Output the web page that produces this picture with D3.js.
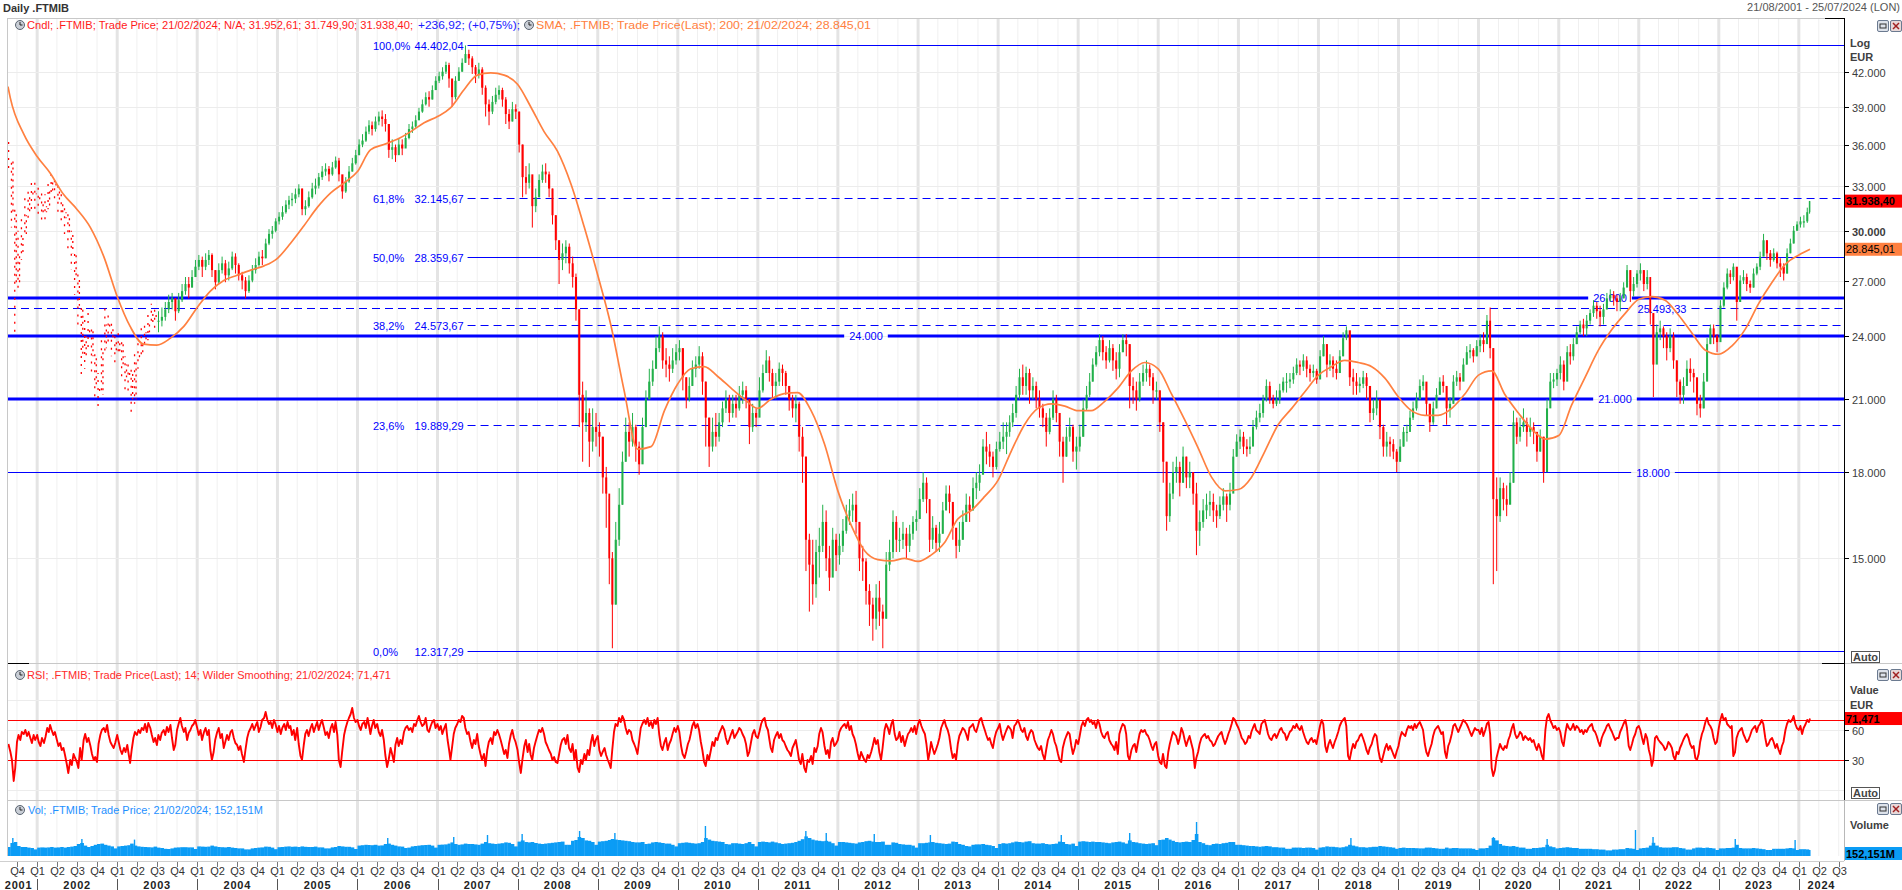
<!DOCTYPE html>
<html><head><meta charset="utf-8"><title>Daily .FTMIB</title>
<script src="https://cdn.jsdelivr.net/npm/d3@7"></script>
<style>
html,body{margin:0;padding:0;background:#fff;overflow:hidden}
svg{display:block}
text{font-family:'Liberation Sans',Arial,Helvetica,sans-serif;font-size:11px}
</style></head><body>
<svg id="chart" width="1902" height="890"></svg>
<script>
// ================= DATA =================
const rangeStart = "2001-08-21", rangeEnd = "2024-07-25", lastDate = "2024-02-21";
const dottedUntil = "2003-07-01";
const priceTicks = [15, 18, 21, 24, 27, 30, 33, 36, 39, 42];   // thousands EUR
const rsiTicks = [30, 60];
const rsiBands = [30, 70];
const fibPct = ["100,0%", "61,8%", "50,0%", "38,2%", "23,6%", "0,0%"];
const fibVal = [44402.04, 32145.67, 28359.67, 24573.67, 19889.29, 12317.29];
const fibHighDate = "2007-05-18";
const levelVal = [26000, 25493.33, 24000, 21000, 18000];
const lastClose = 31938.40, lastSma = 28845.01, lastRsi = 71.471, lastVol = 152.151;

// semi-monthly candles (thousands): close / high / low
const closeP = [
 34.8,31.2,26.8,28.6,29.8,31.0,32.2,32.6,32.4,
 32.0,31.2,31.6,32.6,33.3,32.8,32.0,31.2,30.8,29.8,28.6,27.2, 25.6,23.0,24.0,24.3,23.0,21.6,21.2,23.4,24.6,24.4,23.8,23.2,
 23.8,22.6,22.0,22.2,21.0,22.8,23.2,23.8,24.2,24.6,25.2,24.8, 24.8,25.0,25.4,25.8,26.0,25.3,25.9,26.4,26.8,26.6,27.2,27.8,
 28.2,27.8,28.2,28.5,27.6,26.9,27.6,28.0,27.3,27.7,28.4,27.9, 27.3,27.0,26.4,27.0,27.6,27.9,28.4,28.3,29.2,29.8,30.0,30.6,
 30.9,31.2,31.7,32.0,32.1,32.4,32.8,31.4,31.6,32.2,32.8,33.0, 33.6,34.0,34.2,33.8,34.3,34.8,33.8,32.6,33.3,34.0,34.6,35.2,
 36.0,36.3,37.0,37.5,37.2,37.8,38.2,38.0,37.6,35.6,35.8,35.2, 36.0,35.7,36.5,37.2,37.4,37.9,38.6,39.2,39.8,39.6,40.4,41.2,
 41.6,42.0,42.6,41.4,39.8,41.2,42.0,42.8,43.6,43.2,42.4,41.8, 42.2,40.6,39.2,38.6,39.4,40.0,40.4,39.6,38.4,37.8,38.8,38.6,
 36.0,33.6,33.2,33.8,31.6,32.2,33.4,34.0,33.8,32.8,31.0,29.4, 28.2,28.6,29.0,28.0,27.2,25.4,21.2,20.0,20.4,19.2,19.8,19.6,
 19.4,17.8,17.2,15.0,13.6,15.6,16.8,18.4,19.6,19.2,19.8,19.0, 18.3,19.8,21.0,21.8,22.4,23.4,24.0,22.8,22.6,22.4,22.8,23.2,
 23.4,22.0,21.0,21.6,22.4,22.6,23.0,21.8,20.2,19.0,19.6,19.4, 20.0,20.6,21.0,20.4,20.8,20.6,21.2,21.4,21.0,19.8,20.4,20.2,
 21.4,22.2,22.8,22.2,21.6,21.8,22.4,22.2,21.6,21.0,20.6,20.8, 19.4,18.6,15.6,14.8,14.2,15.2,15.4,16.2,15.0,14.4,15.6,15.1,
 15.4,15.9,16.4,16.6,16.8,16.2,15.0,14.9,14.0,13.6,13.2,13.8, 13.4,13.2,14.8,15.2,16.2,15.6,15.6,15.8,15.4,15.8,16.2,16.3,
 17.0,17.6,17.0,15.6,16.0,15.5,15.8,16.6,17.2,16.9,16.0,15.4, 15.6,16.2,16.8,16.6,17.4,17.6,17.9,19.0,18.8,18.6,18.2,18.9,
 19.2,19.4,19.6,20.0,20.4,21.2,22.0,21.6,22.2,21.4,21.6,21.0, 20.6,20.2,19.6,20.2,21.0,20.4,19.2,18.6,19.4,19.8,18.8,19.0,
 19.4,20.6,21.2,21.8,22.6,23.2,23.8,23.2,22.8,23.4,22.8,22.4, 23.2,23.8,23.6,21.6,21.4,21.0,21.8,22.2,22.4,22.0,21.4,21.4,
 20.0,18.4,16.4,17.2,18.0,18.2,17.6,18.6,17.8,18.0,17.2,15.9, 16.2,16.6,16.8,16.9,16.6,16.4,16.8,17.1,16.8,17.2,18.6,19.2,
 19.4,19.0,18.9,19.0,19.8,20.2,20.4,21.0,21.6,21.0,20.8,21.0, 21.4,21.8,21.8,21.9,22.2,22.6,22.5,22.8,22.4,22.2,22.3,21.9,
 23.0,23.6,22.6,22.8,22.4,22.2,23.0,23.9,24.3,22.0,21.8,21.6, 21.7,22.0,21.6,20.4,20.6,21.0,19.8,19.0,19.2,19.1,18.8,18.4,
 19.0,19.6,19.6,20.2,20.6,21.0,21.6,21.8,20.8,20.0,20.6,21.2, 21.8,21.6,20.6,20.8,21.8,22.0,21.8,22.6,23.2,23.3,23.0,23.5,
 23.8,23.6,24.8,23.4,17.0,16.4,17.4,17.0,16.8,17.6,20.0,19.4, 19.8,20.0,19.6,19.8,19.6,18.8,19.4,18.0,20.6,21.8,21.9,22.2,
 22.6,21.8,23.2,23.0,23.6,24.2,24.6,24.4,24.8,25.2,25.6,25.3, 25.0,25.4,26.0,26.2,26.0,25.8,26.0,26.6,27.6,26.4,26.8,27.4,
 27.6,26.8,27.2,25.2,22.6,24.2,24.4,24.0,23.4,24.0,22.8,21.8, 21.2,21.6,22.4,22.2,22.0,20.8,20.6,21.8,23.6,24.4,24.0,23.7,
 25.6,26.6,27.4,27.2,27.8,25.8,27.0,27.2,26.8,26.6,27.4,27.8, 28.4,29.4,28.6,28.2,28.6,28.0,27.8,27.4,28.6,29.2,30.0,30.4,
 30.6,30.6,31.2,31.94
];
const highP = [
 36.2,35.0,31.5,30.0,31.0,32.2,33.0,33.4,33.2,
 33.2,32.6,32.4,33.4,33.9,33.8,33.2,32.4,31.8,31.2,30.0,28.8, 27.4,25.8,25.0,25.2,24.6,23.2,22.2,24.0,25.5,25.4,24.8,24.0,
 24.4,23.8,23.0,22.8,22.4,23.4,23.8,24.4,24.8,25.2,25.7,25.6, 25.3,25.5,25.8,26.2,26.3,26.0,26.3,26.8,27.2,27.2,27.6,28.2,
 28.5,28.4,28.6,28.8,28.6,27.6,28.0,28.4,28.2,28.1,28.7,28.6, 28.0,27.5,27.2,27.3,27.9,28.3,28.7,28.8,29.5,30.1,30.3,30.8,
 31.2,31.6,32.0,32.3,32.5,32.8,33.1,32.8,32.0,32.6,33.2,33.5, 33.9,34.4,34.6,34.4,34.7,35.1,35.0,33.6,33.6,34.4,35.0,35.6,
 36.4,36.8,37.4,37.9,37.8,38.2,38.6,38.7,38.4,37.6,36.4,36.0, 36.5,36.4,36.9,37.6,37.8,38.3,38.9,39.6,40.2,40.3,40.8,41.6,
 42.0,42.4,42.9,42.8,41.2,41.6,42.4,43.2,44.4,44.0,43.4,42.6, 42.8,42.4,40.8,39.6,39.9,40.6,40.8,40.6,39.8,38.8,39.4,39.2,
 38.6,36.0,34.4,34.6,33.6,32.8,33.8,34.5,34.6,34.0,32.8,31.0, 29.4,29.2,29.4,29.2,28.4,27.4,25.4,21.8,21.4,20.6,20.6,20.4,
 20.0,19.4,18.2,17.0,15.2,16.2,17.4,18.8,20.2,20.0,20.4,19.9, 19.2,20.2,21.4,22.4,22.8,24.0,24.5,24.2,23.4,23.0,23.4,23.6,
 23.8,23.4,22.0,22.0,22.8,23.0,23.5,23.2,21.8,20.2,20.2,20.4, 20.4,20.9,21.4,21.2,21.2,21.2,21.6,21.8,21.6,21.0,20.8,20.6,
 22.0,22.6,23.3,23.0,22.4,22.2,22.7,22.6,22.3,21.6,21.2,21.2, 20.9,19.8,18.6,15.8,15.6,15.6,16.0,16.8,16.6,15.4,16.0,15.8,
 15.8,16.3,16.8,17.0,17.2,17.3,16.2,15.4,15.0,14.2,13.8,14.2, 14.3,13.6,15.2,15.6,16.6,16.4,16.0,16.2,16.0,16.1,16.4,16.6,
 17.4,18.0,17.8,17.0,16.4,16.1,16.2,16.9,17.5,17.5,16.8,16.0, 16.2,16.6,17.2,17.1,17.8,18.0,18.3,19.3,19.6,19.1,18.8,19.2,
 19.6,20.0,20.0,20.3,20.8,21.6,22.4,22.6,22.5,22.4,22.0,21.8, 21.4,20.8,20.4,20.6,21.4,21.2,20.4,19.4,19.8,20.2,19.9,19.4,
 19.9,21.0,21.6,22.2,22.9,23.5,24.1,24.0,23.5,23.8,23.6,23.2, 23.6,24.1,24.1,23.6,22.0,21.8,22.2,22.6,22.8,22.6,22.2,21.8,
 21.4,20.0,18.4,17.6,18.4,18.6,18.4,19.0,18.6,18.4,18.0,17.6, 16.6,17.0,17.2,17.3,17.2,16.8,17.1,17.4,17.2,17.6,18.9,19.5,
 19.7,19.6,19.3,19.4,20.1,20.5,20.8,21.2,21.9,21.8,21.2,21.4, 21.7,22.0,22.2,22.2,22.5,22.9,22.8,23.1,23.0,22.6,22.6,22.4,
 23.3,24.0,23.6,23.1,23.0,22.8,23.3,24.2,24.5,24.0,22.4,22.2, 22.0,22.3,22.2,21.4,21.0,21.4,20.9,19.9,19.6,19.4,19.3,18.9,
 19.3,19.8,19.9,20.5,20.9,21.3,21.9,22.1,21.7,20.8,20.9,21.5, 22.0,22.1,21.6,21.1,22.1,22.3,22.2,22.9,23.5,23.6,23.4,23.8,
 24.1,24.2,25.1,25.5,23.4,17.8,17.8,17.6,17.5,18.0,20.5,20.2, 20.2,20.6,20.2,20.2,20.0,19.6,19.7,19.4,21.0,22.2,22.2,22.4,
 23.0,22.8,23.5,23.6,23.9,24.5,24.8,24.9,25.1,25.4,25.9,25.8, 25.6,25.7,26.3,26.5,26.4,26.2,26.3,26.9,27.9,27.6,27.2,27.6,
 28.0,27.6,27.6,27.0,25.2,24.6,24.8,24.5,24.2,24.4,24.2,22.8, 21.9,22.0,22.8,22.9,22.4,21.8,21.2,22.2,23.9,24.6,24.6,24.1,
 25.9,26.9,27.7,27.6,28.0,27.6,27.3,27.6,27.4,27.0,27.7,28.0, 28.7,29.8,29.4,28.8,28.9,28.7,28.3,28.0,28.9,29.5,30.3,30.6,
 30.9,31.0,31.5,31.95
];
const lowP = [
 34.0,30.2,24.0,26.4,28.2,29.6,30.8,31.4,31.4,
 31.0,30.5,30.6,31.4,32.2,32.0,31.2,30.4,29.8,28.8,27.6,26.2, 24.6,22.0,22.4,23.2,22.2,21.0,20.6,21.2,23.2,23.6,23.0,22.6,
 23.0,22.0,21.4,21.2,20.4,20.8,22.4,23.0,23.6,23.8,24.6,24.2, 24.2,24.5,24.8,25.2,25.4,24.8,25.2,25.8,26.2,26.0,26.6,27.2,
 27.6,27.2,27.6,27.9,27.2,26.5,26.8,27.4,26.9,27.0,27.6,27.4, 27.0,26.5,26.0,26.3,26.9,27.4,27.8,27.9,28.3,29.1,29.5,29.9,
 30.4,30.7,31.1,31.4,31.6,31.8,32.2,31.0,31.0,31.5,32.1,32.4, 32.8,33.4,33.7,33.3,33.7,34.2,33.3,32.1,32.5,33.2,34.0,34.5,
 35.2,35.8,36.2,36.8,36.7,37.0,37.5,37.4,37.0,35.0,34.9,34.7, 35.3,35.2,35.8,36.4,36.9,37.3,37.9,38.5,39.1,39.0,39.6,40.4,
 41.0,41.3,41.8,40.6,39.0,39.6,41.2,42.0,42.8,42.6,41.8,41.0, 41.4,40.0,38.2,37.5,38.4,39.2,39.6,39.0,37.6,37.2,37.8,38.0,
 35.4,32.2,32.4,32.8,30.2,31.2,32.2,33.2,33.2,32.2,30.4,28.8, 26.8,27.6,28.0,27.4,26.6,24.8,19.8,18.4,19.6,18.2,18.8,19.0,
 18.6,17.2,16.0,14.2,12.4,13.6,15.4,16.8,18.4,18.6,19.0,18.4, 17.9,18.4,19.8,21.0,21.6,22.4,23.2,22.4,22.0,21.8,22.2,22.6,
 22.8,21.4,20.6,20.9,21.6,22.0,22.4,21.2,19.0,18.2,18.8,19.0, 19.2,19.8,20.4,20.0,20.2,20.2,20.5,20.8,20.6,19.1,19.6,19.8,
 20.6,21.3,22.2,21.8,21.0,21.0,21.6,21.6,21.2,20.5,20.2,20.0, 18.8,17.6,14.6,13.4,13.6,13.8,14.4,15.2,14.6,14.0,14.6,14.6,
 14.8,15.2,15.8,16.1,16.2,15.8,14.6,14.3,13.6,13.0,12.6,12.9, 13.0,12.4,13.2,14.6,15.0,15.2,15.2,15.3,15.0,15.2,15.6,15.9,
 16.3,16.9,16.5,15.2,15.3,15.2,15.2,15.8,16.6,16.5,15.6,15.0, 15.2,15.6,16.2,16.2,16.6,17.0,17.3,18.0,18.3,18.2,17.8,18.1,
 18.8,18.9,18.7,19.4,19.8,20.2,21.0,21.2,21.2,20.8,21.0,20.6, 20.2,19.8,19.0,19.5,20.1,20.0,18.6,17.6,18.6,19.2,18.4,18.1,
 18.8,19.4,20.5,21.1,21.8,22.5,23.0,22.8,22.4,22.7,22.3,21.9, 22.0,23.2,23.0,20.6,20.8,20.5,20.9,21.6,21.8,21.6,20.8,21.0,
 19.6,17.6,15.9,16.2,17.0,17.6,17.1,17.6,17.4,17.4,16.8,15.1, 15.4,16.0,16.3,16.4,16.2,16.0,16.3,16.6,16.2,16.6,17.4,18.6,
 18.9,18.7,18.6,18.7,19.1,19.7,20.0,20.2,20.9,20.8,20.6,20.7, 20.8,21.3,21.3,21.5,21.7,22.1,22.1,22.3,22.0,21.8,22.0,21.7,
 22.2,23.0,22.0,22.3,22.0,21.9,22.2,23.0,23.8,21.6,21.2,21.2, 21.3,21.5,21.0,20.0,20.1,20.3,19.3,18.6,18.6,18.6,18.5,18.0,
 18.4,19.0,19.2,19.6,20.1,20.5,21.0,21.4,20.3,19.6,19.9,20.6, 21.2,21.3,19.9,20.2,20.8,21.6,21.4,21.9,22.6,22.9,22.7,23.0,
 23.2,23.2,23.7,22.9,14.2,14.6,16.2,16.6,16.4,16.9,17.6,19.1, 19.2,19.6,19.0,19.4,19.1,18.4,18.8,17.6,18.2,20.8,21.5,21.6,
 21.9,21.4,22.0,22.6,22.8,23.6,24.1,24.0,24.0,24.6,25.0,24.9, 24.5,24.6,25.4,25.8,25.6,25.3,25.3,26.0,26.7,25.8,26.1,26.6,
 27.0,26.4,26.5,24.6,21.1,22.8,23.8,23.4,22.8,23.2,22.4,21.1, 20.8,20.8,21.6,21.8,21.3,20.3,20.2,20.6,21.9,23.6,23.6,23.2,
 24.0,25.5,26.5,26.8,27.0,24.8,25.8,26.8,26.4,26.3,26.6,27.3, 27.6,28.5,28.2,27.8,28.1,27.7,27.2,27.0,27.4,28.6,29.2,30.0,
 30.2,30.2,30.5,31.1
];
// SMA(200) read every two months (thousands)
const sma = [
 40.7, 39.7,36.8,
 35.1,33.9,32.4,31.4,30.2,28.4,  26.1,24.5,23.6,23.55,23.9,24.5,  25.5,26.4,27.0,27.3,27.6,27.85,
 28.3,29.2,30.3,31.5,32.5,33.2,  34.0,35.6,36.0,36.4,37.0,37.7,  38.2,38.9,40.4,41.7,41.9,41.7,
 40.9,39.0,37.0,35.5,33.1,30.2,  27.3,24.6,21.4,18.9,19.0,20.5,  21.7,22.4,22.5,22.05,21.5,21.0,
 20.6,21.0,21.25,21.3,20.5,19.1, 17.3,16.1,15.25,14.96,14.92,15.0, 14.9,15.1,15.5,16.3,16.6,17.1,
 17.7,18.8,19.9,20.6,20.8,20.7,  20.5,20.5,20.9,21.5,22.3,22.7,  22.4,21.25,20.1,18.95,17.8,17.3,
 17.35,17.8,18.8,19.9,20.6,21.35, 22.1,22.5,22.8,22.7,22.5,21.95, 21.1,20.5,20.3,20.3,20.6,21.25,
 22.1,22.3,21.2,20.4,19.7,19.3,  19.45,20.75,22.0,23.3,24.35,25.2, 25.95,26.1,25.9,25.1,24.15,23.3,
 23.1,23.5,24.35,25.7,26.9,27.95, 28.5, 28.85
];
// RSI(14), four readings a month (1st, 8th, 16th, 23rd)
const rsi = [
 46, 38,30,9,22, 48,55,50,58, 56,60,54,58, 52,47,55,50,
 55,48,44,52, 47,53,62,58, 65,60,55,58, 50,44,47,40, 42,35,26,17, 30,25,36,32, 28,22,42,30, 50,56,48,52, 44,36,30,33, 28,46,55,60, 62,58,65,55, 48,45,42,47,
 55,48,40,36, 42,38,45,35, 27,40,52,58, 55,60,57,62, 60,66,58,67, 62,55,48,52, 45,55,50,57, 60,55,63,58, 65,52,40,45, 60,66,72,64, 58,62,50,57, 60,64,66,70,
 62,55,60,50, 58,62,55,60, 40,30,38,50, 58,62,52,56, 42,48,55,50, 58,60,52,47, 45,40,44,36, 28,40,52,58, 62,66,60,64, 68,58,63,70, 72,78,70,66, 68,62,70,66,
 58,64,56,62, 66,60,68,62, 64,55,60,50, 62,46,34,30, 45,56,60,54, 62,66,58,63, 68,60,66,70, 62,55,58,52, 62,66,58,68, 55,30,23,38, 55,62,68,72, 76,82,72,68,
 70,64,60,66, 68,62,72,64, 56,64,70,62, 66,58,54,60, 50,35,23,30, 42,36,28,45, 52,44,50,46, 58,62,64,60, 62,58,66,64, 70,74,68,64, 66,72,60,58, 64,68,70,62,
 66,60,64,56, 62,66,50,40, 30,42,56,62, 66,70,68,74, 72,62,56,58, 48,42,50,46, 56,44,36,30, 36,24,40,48, 52,46,58,55, 60,56,50,44, 36,40,32,46, 55,60,52,48,
 40,28,17,30, 44,50,38,46, 35,30,42,48, 55,60,58,62, 56,48,44,40, 36,30,33,28, 27,35,45,50, 52,46,55,42, 38,46,30,40, 22,18,30,26, 36,30,40,35, 48,55,44,50,
 54,40,34,38, 42,35,30,26, 22,40,58,66, 64,72,68,74, 70,62,56,60, 58,50,46,42, 36,48,62,66, 70,66,72,64, 68,62,70,66, 72,56,44,40, 48,52,40,46, 50,56,62,58,
 64,58,44,36, 32,38,46,50, 56,64,68,62, 66,60,48,40, 28,24,35,30, 40,48,44,52, 50,56,60,64, 60,52,46,50, 56,60,52,55, 58,62,60,56, 52,46,34,38, 48,56,60,54,
 52,58,66,70, 72,64,60,50, 42,38,50,54, 58,52,56,50, 48,44,40,38, 34,42,46,50, 40,30,26,36, 22,18,30,28, 34,26,42,38, 44,56,62,58, 44,36,40,32, 48,52,44,46,
 50,58,62,64, 66,62,68,60, 64,56,52,46, 36,30,38,34, 30,28,35,32, 38,44,52,46, 50,38,30,42, 60,66,62,56, 66,70,56,50, 52,58,48,54, 44,50,56,58, 62,58,64,56,
 66,70,64,60, 56,46,30,38, 48,42,36,40, 46,52,62,66, 70,64,60,54, 40,32,36,30, 46,54,58,62, 60,56,50,62, 64,66,60,58, 64,70,72,66, 60,55,50,52, 46,42,52,58,
 62,66,56,50, 56,60,64,62, 60,52,64,66, 70,66,60,58, 62,54,50,56, 60,58,50,46, 42,40,44,36, 30,40,50,54, 60,56,48,44, 36,30,28,42, 50,54,58,56, 44,36,42,50,
 46,54,64,68, 64,70,72,68, 70,66,68,62, 70,66,58,54, 52,56,58,50, 46,44,40,48, 36,56,62,66, 64,56,34,30, 40,44,46,38, 48,56,60,58, 60,56,54,50, 44,40,46,48,
 34,28,26,36, 24,22,38,46, 52,58,56,54, 46,52,62,58, 50,44,50,54, 46,40,22,32, 38,46,52,54, 56,52,54,50, 48,44,46,50, 54,56,58,52, 46,50,56,60, 66,72,70,66,
 62,58,52,50, 46,48,54,52, 58,62,66,60, 58,56,66,68, 70,64,56,52, 50,54,56,52, 56,60,62,58, 56,50,54,58, 60,64,62,66, 62,60,64,58, 52,48,46,50, 52,48,50,46,
 56,64,70,66, 44,38,46,50, 46,42,48,52, 58,64,68,70, 72,64,34,30, 40,46,42,48, 50,54,56,52, 46,40,36,42, 46,52,56,54, 40,32,28,34, 42,46,40,44, 40,36,32,38,
 44,52,58,56, 54,60,64,62, 64,60,66,62, 66,68,64,60, 46,38,34,40, 46,54,60,62, 64,60,56,58, 38,32,44,48, 56,64,66,62, 58,62,66,70, 68,66,62,58, 54,58,62,60,
 60,56,62,54, 60,66,68,56, 22,14,20,32, 40,46,42,40, 44,42,50,54, 62,66,56,52, 54,58,56,50, 54,52,50,52, 48,50,44,40, 46,42,34,30, 60,72,76,70, 66,62,64,60,
 62,58,48,44, 58,66,62,60, 62,66,60,64, 62,58,60,56, 60,58,62,64, 66,60,58,54, 48,44,52,56, 60,64,66,62, 58,54,50,52, 52,58,62,66, 70,62,44,40, 46,52,56,62,
 64,60,52,46, 56,52,40,34, 24,30,52,54, 50,48,46,44, 40,42,48,46, 42,34,30,38, 36,42,46,50, 54,56,52,46, 42,44,32,30, 36,48,56,60, 68,72,66,64, 60,52,46,48,
 62,70,76,70, 72,66,64,62, 64,34,38,52, 58,60,62,56, 52,48,50,54, 60,62,64,58, 64,66,70,66, 52,44,46,50, 52,48,42,46, 40,36,44,48, 60,66,70,68, 70,74,66,62,
 60,64,56,62, 66,70,68, 71.47
];
// volume, semi-monthly (millions)
const vol = [
 450,650,700,500,450,450,420,400,330,
 420,430,420,430,450,420,430,450,420,450,470,500, 600,650,520,450,500,560,600,620,560,520,480,380,
 480,500,520,540,620,520,480,460,450,440,430,470, 420,400,360,350,380,420,430,440,440,430,430,350,
 480,470,460,470,520,480,450,440,430,450,420,400, 380,380,330,330,380,400,420,430,470,460,420,340,
 440,450,470,480,460,470,450,480,460,450,450,470, 430,430,380,380,430,450,500,480,460,460,430,350,
 520,540,560,550,540,560,520,530,600,620,560,520, 480,470,400,420,480,500,520,540,550,560,520,420,
 560,570,580,620,680,600,560,580,620,600,600,580, 560,620,700,640,620,600,620,640,680,660,600,480,
 720,780,700,680,700,650,620,600,620,640,660,680, 700,720,560,560,760,800,950,900,780,760,700,560,
 720,740,760,800,850,820,800,780,760,740,700,680, 680,700,600,620,680,700,680,650,620,620,560,480,
 640,660,680,660,640,620,640,700,900,820,760,740, 720,700,600,580,640,640,620,600,640,700,600,480,
 700,720,700,680,720,680,640,600,620,640,660,700, 760,840,980,900,820,780,760,740,760,720,640,520,
 700,700,680,660,640,620,680,700,740,760,720,700, 700,720,560,560,680,660,600,580,560,560,520,420,
 640,640,660,680,700,660,640,620,600,620,720,700, 600,560,500,480,560,580,580,600,560,540,500,400,
 600,640,620,640,680,720,700,680,720,740,640,620, 620,640,600,580,600,620,720,700,600,580,620,500,
 720,740,720,700,720,700,700,680,660,640,680,700, 720,680,620,780,700,680,640,620,600,620,640,540,
 800,820,900,820,760,700,680,700,720,700,800,1100, 700,640,560,540,600,620,600,640,660,700,700,560,
 560,540,520,500,500,480,460,480,500,480,440,440, 420,420,360,360,420,420,420,400,420,420,400,320,
 420,440,480,460,460,440,420,440,480,560,520,480, 440,440,420,440,460,460,500,480,460,440,420,360,
 400,420,400,400,400,390,380,380,420,420,400,380, 360,360,420,380,400,400,380,380,380,380,360,300,
 380,380,400,520,900,780,600,520,500,480,500,460, 420,420,360,360,400,400,420,440,560,480,440,380,
 400,420,440,420,400,400,360,360,360,360,340,340, 320,320,280,280,320,320,340,340,400,380,360,300,
 380,400,420,520,660,520,440,420,420,420,440,440, 400,380,320,320,380,420,420,400,420,400,380,300,
 380,380,400,400,420,560,400,380,380,380,400,380, 360,340,300,300,360,360,360,360,380,400,380,300,
 340,340,330,300
];
// single-day volume peaks (millions)
const spikeDates = ["2001-09-12","2002-07-24","2003-03-21","2006-05-19","2007-03-16","2007-08-17","2008-01-22","2008-10-10","2009-03-20","2010-05-07","2011-08-08","2011-11-09","2012-06-15","2013-02-26","2014-10-16","2015-08-24","2016-06-24","2018-05-29","2020-03-09","2020-11-09","2021-12-17","2022-03-07","2023-03-17","2023-12-15"];
const spikeVals  = [900, 850, 820, 900, 950, 1050, 1100, 1250, 1150, 1500, 1250, 1150, 1100, 1050, 1050, 1150, 1700, 900, 950, 850, 1300, 950, 850, 800];

// ================= LAYOUT / STYLE =================
const C = {green:"#22b04a", red:"#ff0000", sma:"#ff8040", blue:"#0000ff", vol:"#0b9cf5", grid:"#eeeeee", gridY:"#e4e4e4", text:"#3c3c3c"};
const L = 8, R = 1844;
const P = {mainTop:18, mainBot:663, rsiTop:664, rsiBot:800, volTop:801, volBot:856};
const levelStyle = [{w:3},{w:1,dash:"8,5"},{w:3},{w:3},{w:1}];
const levelLabelX = [1610, 1662, 866, 1615, 1653];

// ================= DRAW =================
const svg = d3.select("#chart");
const parse = d3.utcParse("%Y-%m-%d");
const T0 = parse(rangeStart), T1 = parse(rangeEnd), TL = parse(lastDate), TLe = d3.utcDay.offset(TL,1);
const itLoc = d3.formatLocale({decimal:",", thousands:".", grouping:[3], currency:["",""]});
const f2 = itLoc.format(",.2f"), f0 = itLoc.format(",.0f"), f3 = itLoc.format(",.3f");

const x = d3.scaleTime().domain([T0, T1]).range([L, R]);
const y = d3.scaleLog().domain([15, 42]).range([558.3, 71.7]);
const yR = d3.scaleLinear().domain([0, 100]).range([790, 690]);
const yV = d3.scaleLinear().domain([0, 2000]).range([P.volBot, P.volBot - 40]);

// periods (half months)
const periods = [];
for (let m = d3.utcMonth.floor(T0); m < TL; m = d3.utcMonth.offset(m, 1)) {
  const mid = new Date(Date.UTC(m.getUTCFullYear(), m.getUTCMonth(), 16));
  const nxt = d3.utcMonth.offset(m, 1);
  for (const [a, b] of [[m, mid], [mid, nxt]]) {
    if (b <= T0 || a > TL) continue;
    periods.push([a < T0 ? T0 : a, b > TLe ? TLe : b]);
  }
}
const rsiDates = [];
for (let m = d3.utcMonth.floor(T0); m <= TL; m = d3.utcMonth.offset(m, 1))
  for (const d of [1, 8, 16, 23]) {
    const t = new Date(Date.UTC(m.getUTCFullYear(), m.getUTCMonth(), d));
    if (t >= T0 && t < TL) rsiDates.push(t);
  }
rsiDates.push(TL);
const smaDates = [T0, ...d3.utcMonth.range(parse("2001-09-01"), parse("2024-02-01"), 2), TL];

// clip paths
const defs = svg.append("defs");
[["cMain", P.mainTop, P.mainBot], ["cRsi", P.rsiTop, P.rsiBot], ["cVol", P.volTop, P.volBot]].forEach(([id, a, b]) =>
  defs.append("clipPath").attr("id", id).append("rect").attr("x", L).attr("y", a).attr("width", R - L).attr("height", b - a));

// vertical grid
const gGrid = svg.append("g");
const quarters = d3.utcMonth.every(3).range(T0, T1);
quarters.forEach(q => {
  const isYear = q.getUTCMonth() === 0;
  gGrid.append("line").attr("x1", x(q)).attr("x2", x(q)).attr("y1", P.mainTop).attr("y2", P.volBot)
    .attr("stroke", isYear ? C.gridY : "#f0f0f0").attr("stroke-width", isYear ? 3 : 1);
});
priceTicks.forEach(t => gGrid.append("line").attr("x1", L).attr("x2", R).attr("y1", Math.round(y(t)) + .5).attr("y2", Math.round(y(t)) + .5).attr("stroke", "#ececec"));
[0, 60, 90].forEach(t => gGrid.append("line").attr("x1", L).attr("x2", R).attr("y1", yR(t) + .5).attr("y2", yR(t) + .5).attr("stroke", "#ececec"));

// frames
const gF = svg.append("g");
gF.append("line").attr("x1", L - .5).attr("x2", L - .5).attr("y1", P.mainTop).attr("y2", P.volBot).attr("stroke", "#c8c8c8");
gF.append("line").attr("x1", L).attr("x2", R).attr("y1", P.mainTop + .5).attr("y2", P.mainTop + .5).attr("stroke", "#c8c8c8");
[P.mainBot + .5, P.rsiBot + .5].forEach(v => gF.append("line").attr("x1", L).attr("x2", 1902).attr("y1", v).attr("y2", v).attr("stroke", "#c8c8c8"));
gF.append("line").attr("x1", 1825).attr("x2", R).attr("y1", P.mainTop + .5).attr("y2", P.mainTop + .5).attr("stroke", "#000");
gF.append("line").attr("x1", 1822).attr("x2", R).attr("y1", P.mainBot + .5).attr("y2", P.mainBot + .5).attr("stroke", "#000");
gF.append("line").attr("x1", L).attr("x2", 29).attr("y1", P.mainBot + .5).attr("y2", P.mainBot + .5).attr("stroke", "#000");
gF.append("line").attr("x1", R + .5).attr("x2", R + .5).attr("y1", P.mainTop).attr("y2", P.rsiBot).attr("stroke", "#000");
gF.append("line").attr("x1", R + .5).attr("x2", R + .5).attr("y1", P.rsiBot).attr("y2", 861).attr("stroke", "#b8b8b8");

// ----- horizontal levels -----
const gLev = svg.append("g").attr("clip-path", "url(#cMain)");
const gLab = svg.append("g");
levelVal.forEach((v, i) => {
  const yy = Math.round(y(v / 1000)) + (levelStyle[i].w === 3 ? 0 : .5);
  const lbl = (v % 1000 === 0) ? f0(v) : f2(v);
  const t = gLab.append("text").attr("x", levelLabelX[i]).attr("y", yy + 4).attr("text-anchor", "middle").attr("fill", C.blue).text(lbl);
  const half = t.node().getComputedTextLength() / 2 + 5;
  [[L, levelLabelX[i] - half], [levelLabelX[i] + half, R]].forEach(([a, b]) => {
    const ln = gLev.append("line").attr("x1", a).attr("x2", b).attr("y1", yy).attr("y2", yy)
      .attr("stroke", C.blue).attr("stroke-width", levelStyle[i].w);
    if (levelStyle[i].dash) ln.attr("stroke-dasharray", levelStyle[i].dash);
  });
});
const fibX = x(parse(fibHighDate));
fibVal.forEach((v, i) => {
  const yy = Math.round(y(v / 1000)) + .5;
  const ln = gLev.append("line").attr("x1", fibX).attr("x2", R).attr("y1", yy).attr("y2", yy).attr("stroke", C.blue).attr("stroke-width", 1);
  if (i > 0 && i < 5 && i !== 2) ln.attr("stroke-dasharray", "8,5");
  gLab.append("text").attr("x", 373).attr("y", yy + 4).attr("fill", C.blue).text(fibPct[i]);
  gLab.append("text").attr("x", fibX - 4).attr("y", yy + 4).attr("text-anchor", "end").attr("fill", C.blue).text(f2(v));
});

// ----- candles -----
const gC = svg.append("g").attr("clip-path", "url(#cMain)");
const dotEnd = parse(dottedUntil);
const n = Math.min(periods.length, closeP.length, highP.length, lowP.length);
for (let i = 0; i < n; i++) {
  const [a, b] = periods[i];
  const x0 = x(a), x1 = x(b), cx = (x0 + x1) / 2, w = x1 - x0;
  const c = closeP[i], o = i ? closeP[i - 1] : closeP[i], h = highP[i], l = lowP[i];
  if (b <= dotEnd) {
    gC.append("line").attr("x1", cx - 0.6).attr("x2", cx - 0.6).attr("y1", y(h)).attr("y2", y(l))
      .attr("stroke", C.red).attr("stroke-width", 1.3).attr("stroke-dasharray", "2,6").attr("stroke-dashoffset", (i * 3) % 8);
    gC.append("line").attr("x1", cx + 0.9).attr("x2", cx + 0.9).attr("y1", y(Math.max(c, o))).attr("y2", y(Math.min(c, o)))
      .attr("stroke", C.red).attr("stroke-width", 1.3).attr("stroke-dasharray", "2,4").attr("stroke-dashoffset", (i * 5) % 6);
    continue;
  }
  const col = c >= o ? C.green : C.red;
  gC.append("line").attr("x1", cx).attr("x2", cx).attr("y1", y(h)).attr("y2", y(l)).attr("stroke", col).attr("stroke-width", 1);
  const yt = y(Math.max(o, c)), yb = y(Math.min(o, c));
  const bw = Math.max(1.5, w * 0.62);
  gC.append("rect").attr("x", cx - bw / 2).attr("y", yt).attr("width", bw).attr("height", Math.max(1.2, yb - yt)).attr("fill", col);
}
const smaPts = smaDates.map((d, i) => [x(d), y(sma[i])]).filter((p, i) => sma[i] !== undefined);
gC.append("path").attr("d", d3.line().curve(d3.curveMonotoneX)(smaPts)).attr("fill", "none").attr("stroke", C.sma).attr("stroke-width", 1.7);

// ----- RSI -----
const gR = svg.append("g").attr("clip-path", "url(#cRsi)");
rsiBands.forEach(v => gR.append("line").attr("x1", L).attr("x2", R).attr("y1", yR(v) + .5).attr("y2", yR(v) + .5).attr("stroke", C.red).attr("stroke-width", 1));
const rsiPts = rsiDates.map((d, i) => [x(d), yR(rsi[i])]).filter((p, i) => rsi[i] !== undefined);
gR.append("path").attr("d", d3.line()(rsiPts)).attr("fill", "none").attr("stroke", C.red).attr("stroke-width", 1.9).attr("stroke-linejoin", "round");

// ----- Volume -----
const gV = svg.append("g").attr("clip-path", "url(#cVol)");
for (let i = 0; i < Math.min(periods.length, vol.length); i++) {
  const [a, b] = periods[i];
  gV.append("rect").attr("x", x(a)).attr("width", x(b) - x(a) + 0.3).attr("y", yV(vol[i])).attr("height", yV(0) - yV(vol[i])).attr("fill", C.vol);
}
spikeDates.forEach((d, i) => {
  const xx = x(parse(d));
  gV.append("rect").attr("x", xx - 0.7).attr("width", 1.4).attr("y", yV(spikeVals[i])).attr("height", yV(0) - yV(spikeVals[i])).attr("fill", C.vol);
});

// ----- right axis -----
const gA = svg.append("g");
priceTicks.forEach(t => {
  const yy = Math.round(y(t)) + .5;
  gA.append("line").attr("x1", R).attr("x2", R + 5).attr("y1", yy).attr("y2", yy).attr("stroke", "#000");
  gA.append("text").attr("x", 1852).attr("y", yy + 4).attr("fill", C.text).attr("font-weight", t === 30 ? "bold" : null).text(f0(t * 1000));
});
rsiTicks.forEach(t => {
  const yy = yR(t) + .5;
  gA.append("line").attr("x1", R).attr("x2", R + 5).attr("y1", yy).attr("y2", yy).attr("stroke", "#000");
  gA.append("text").attr("x", 1852).attr("y", yy + 4).attr("fill", C.text).text(t);
});
const bold = (sel) => sel.attr("font-weight", "bold");
bold(gA.append("text").attr("x", 1850).attr("y", 47).attr("fill", "#404040").text("Log"));
bold(gA.append("text").attr("x", 1850).attr("y", 61).attr("fill", "#404040").text("EUR"));
bold(gA.append("text").attr("x", 1850).attr("y", 694).attr("fill", "#404040").text("Value"));
bold(gA.append("text").attr("x", 1850).attr("y", 709).attr("fill", "#404040").text("EUR"));
bold(gA.append("text").attr("x", 1850).attr("y", 829).attr("fill", "#404040").text("Volume"));
function valueBox(yc, fill, label, isBold) {
  gA.append("rect").attr("x", R + 1).attr("y", yc - 6.5).attr("width", 1902 - R - 1).attr("height", 13).attr("fill", fill);
  const t = gA.append("text").attr("x", R + 2).attr("y", yc + 4).attr("fill", "#000").text(label);
  if (isBold) t.attr("font-weight", "bold");
}
valueBox(y(lastClose / 1000), C.red, f2(lastClose), true);
valueBox(y(lastSma / 1000), C.sma, f2(lastSma), false);
valueBox(yR(lastRsi), C.red, f3(lastRsi), true);
valueBox(853.5, C.vol, f3(lastVol) + "M", true);
function autoBox(yTop) {
  gA.append("rect").attr("x", 1851.5).attr("y", yTop + .5).attr("width", 28).attr("height", 11).attr("fill", "#fff").attr("stroke", "#555");
  bold(gA.append("text").attr("x", 1865.5).attr("y", yTop + 10).attr("text-anchor", "middle").attr("fill", "#444").attr("font-size", "10.5px").text("Auto"));
}
autoBox(651); autoBox(787);
function icons(yTop) {
  [[1877, "min"], [1890, "x"]].forEach(([xx, k]) => {
    gA.append("rect").attr("x", xx + .5).attr("y", yTop + .5).attr("width", 11).attr("height", 11).attr("rx", 1.5)
      .attr("fill", k === "x" ? "#e8d8d8" : "#dde2ea").attr("stroke", "#6b7a90");
    if (k === "min") gA.append("rect").attr("x", xx + 3).attr("y", yTop + 4).attr("width", 6).attr("height", 4).attr("fill", "none").attr("stroke", "#333");
    else {
      gA.append("line").attr("x1", xx + 3).attr("x2", xx + 9).attr("y1", yTop + 3).attr("y2", yTop + 9).attr("stroke", "#a02020").attr("stroke-width", 1.5);
      gA.append("line").attr("x1", xx + 9).attr("x2", xx + 3).attr("y1", yTop + 3).attr("y2", yTop + 9).attr("stroke", "#a02020").attr("stroke-width", 1.5);
    }
  });
}
icons(20); icons(669); icons(803);

// ----- x axis -----
const gX = svg.append("g");
gX.append("line").attr("x1", 0).attr("x2", R).attr("y1", 861.5).attr("y2", 861.5).attr("stroke", "#cfcfcf");
quarters.forEach(q => {
  const xx = Math.round(x(q)) + .5;
  gX.append("line").attr("x1", xx).attr("x2", xx).attr("y1", 862).attr("y2", 867).attr("stroke", "#777");
  gX.append("text").attr("x", xx).attr("y", 875).attr("text-anchor", "middle").attr("fill", "#333").text("Q" + (q.getUTCMonth() / 3 + 1));
});
d3.range(2001, 2025).forEach(Y => {
  const a = x(new Date(Date.UTC(Y, 0, 1))), b = x(new Date(Date.UTC(Y + 1, 0, 1)));
  const xa = Math.max(0, a), xb = Math.min(R, b);
  if (a > 0) gX.append("line").attr("x1", Math.round(a) + .5).attr("x2", Math.round(a) + .5).attr("y1", 879).attr("y2", 890).attr("stroke", "#555");
  gX.append("text").attr("x", (xa + xb) / 2).attr("y", 889).attr("text-anchor", "middle").attr("font-weight", "bold")
    .attr("font-size", "12.5px").attr("letter-spacing", "0.8px").attr("fill", "#222").text(Y);
});

// ----- headers -----
const gH = svg.append("g");
bold(gH.append("text").attr("x", 3).attr("y", 12).attr("fill", "#333").attr("font-size", "11.5px").text("Daily .FTMIB"));
gH.append("text").attr("x", 1900).attr("y", 11).attr("text-anchor", "end").attr("fill", "#555").text("21/08/2001 - 25/07/2024 (LON)");
function clock(cx, cy) {
  gH.append("circle").attr("cx", cx).attr("cy", cy).attr("r", 4.5).attr("fill", "#c9ced6").attr("stroke", "#5a6470");
  gH.append("path").attr("d", `M${cx},${cy - 3}V${cy}H${cx + 2.5}`).attr("stroke", "#222").attr("fill", "none").attr("stroke-width", 1);
}
function htxt(x0, yb, w, fill, s) {
  gH.append("text").attr("x", x0).attr("y", yb).attr("fill", fill).attr("textLength", w).attr("lengthAdjust", "spacingAndGlyphs").text(s);
}
clock(20, 25);
htxt(27, 29, 386, "#ff1a1a", "Cndl; .FTMIB; Trade Price;  21/02/2024; N/A;  31.952,61;  31.749,90;  31.938,40;");
htxt(418, 29, 102, "#1a1aff", "+236,92;  (+0,75%);");
clock(529, 25);
htxt(536, 29, 335, "#ff8040", "SMA; .FTMIB; Trade Price(Last);  200;  21/02/2024;  28.845,01");
clock(20, 675);
htxt(27, 679, 364, "#ff2a2a", "RSI; .FTMIB; Trade Price(Last);  14; Wilder Smoothing;  21/02/2024;  71,471");
clock(20, 810);
htxt(28, 814, 235, "#1e90ff", "Vol; .FTMIB; Trade Price;  21/02/2024;  152,151M");
</script>
</body></html>
